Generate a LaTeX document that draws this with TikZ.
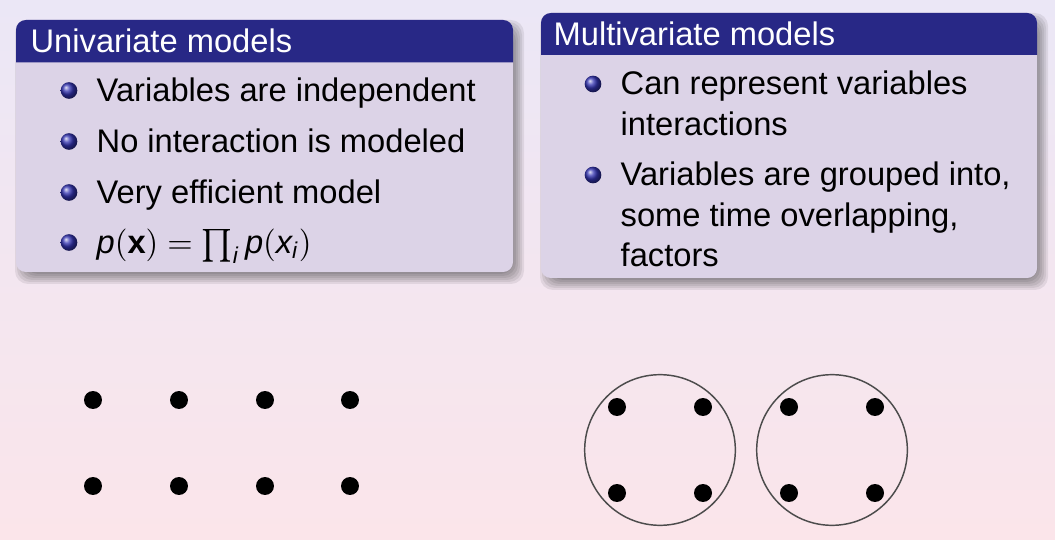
\documentclass[tikz,border=0pt]{standalone}
\usepackage{amsmath}
\usepackage{fontspec}
\setmainfont{Liberation Sans}
\usepackage{tikz}
\usetikzlibrary{shapes.geometric, arrows, shadings}
\definecolor{blockblue}{RGB}{40,40,134}
\definecolor{bodylav}{RGB}{220,211,231}
\definecolor{ballblue}{rgb}{0.2,0.2,0.7}
\definecolor{bgtop}{RGB}{235,231,246}
\definecolor{bgbot}{RGB}{251,229,234}
\newcommand{\topstrut}{\rule{0pt}{8.68pt}}
\tikzstyle{head} = [anchor=base west, inner sep=0pt, text=white]
\tikzstyle{item} = [anchor=north west, inner sep=0pt, align=left, text=black]
\tikzstyle{bullet} = [circle, inner sep=0pt, minimum size=5.1pt, ball color=ballblue]
\tikzstyle{dot} = [circle, inner sep=0pt, minimum size=5.5pt, fill=black]
\tikzstyle{factor} = [circle, inner sep=0pt, minimum size=46.1pt, draw=black!70, line width=0.45pt]
\begin{document}
\begin{tikzpicture}[x=0.306pt, y=-0.306pt, font=\fontsize{10}{12.4}\selectfont]
        \useasboundingbox (0,0) rectangle (1055,540);
        \shade[top color=bgtop, bottom color=bgbot] (0,0) rectangle (1055,540);
        \foreach \xa/\ya/\xb/\yb/\yh in {16/20/513/272/62.5, 541/13/1037/278/55} {
          \foreach \e in {1,...,7}
            \fill[black, opacity=0.075, rounded corners=4pt] (\xa+13-2*\e,\ya+14-2*\e) rectangle (\xb-3+2*\e,\yb-2+2*\e);
          \fill[bodylav, rounded corners=3pt] (\xa,\ya) rectangle (\xb,\yb);
          \fill[blockblue] (\xa,\yh) [rounded corners=3pt] -- (\xa,\ya) -- (\xb,\ya) [sharp corners] -- (\xb,\yh) -- cycle;
        }
        \node (uni) [head] at (30,53) {Univariate models};
        \node (u1) [item] at (96,72.6) {\topstrut Variables are independent};
        \node (u2) [item] at (96,123.6) {\topstrut No interaction is modeled};
        \node (u3) [item] at (96,174.6) {\topstrut Very efficient model};
        \node (u4) [item] at (96,224.6) {\topstrut $\textit{p}(\textbf{x}) = \prod_{\textit{i}} \textit{p}(\textit{x}_{\textit{i}})$};
        \foreach \i/\y in {1/90.5,2/141.5,3/192.5,4/242.5}
          \node (ub\i) [bullet] at (69,\y) {};
        \node (multi) [head] at (553,46) {Multivariate models};
        \node (m1) [item] at (620,65.6) {\topstrut Can represent variables\\interactions};
        \node (m2) [item] at (620,156.6) {\topstrut Variables are grouped into,\\some time overlapping,\\factors};
        \node (mb1) [bullet] at (593,84) {};
        \node (mb2) [bullet] at (593,175) {};
        \foreach \i/\x in {1/93,2/179,3/265,4/350} {
          \node (v\i a) [dot] at (\x,400) {};
          \node (v\i b) [dot] at (\x,486) {};
        }
        \node (f1) [factor] at (660,450) {};
        \node (f2) [factor] at (832,450) {};
        \foreach \j/\x in {1/660,2/832} {
          \node (f\j nw) [dot] at (\x-43,407) {};
          \node (f\j ne) [dot] at (\x+43,407) {};
          \node (f\j sw) [dot] at (\x-43,493) {};
          \node (f\j se) [dot] at (\x+43,493) {};
        }
      \end{tikzpicture}
\end{document}
